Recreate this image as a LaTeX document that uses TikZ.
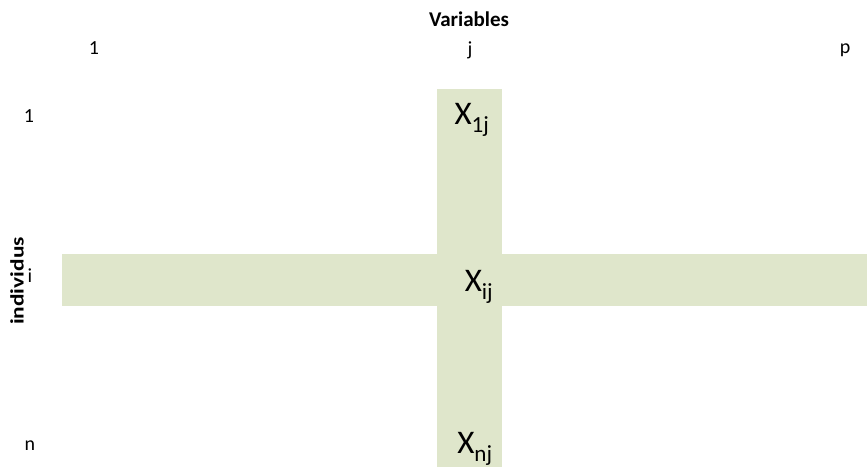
\documentclass[tikz,border=0pt]{standalone}
\usepackage{fontspec}
\usepackage{graphicx}
\setmainfont{Carlito}
\definecolor{band}{RGB}{223,230,203}
\begin{document}
\begin{tikzpicture}[x=1pt,y=-1pt,
  lbl/.style={inner sep=0pt,font=\fontsize{20}{20}\selectfont},
  big/.style={inner sep=0pt,font=\fontsize{33}{33}\selectfont},
  bandfill/.style={fill=band,draw=none}]
\useasboundingbox (0,0) rectangle (867,467);
\fill[bandfill] (437,89) rectangle (502,467);
\fill[bandfill] (62,254) rectangle (867,306);
\node[lbl,font=\fontsize{21}{21}\selectfont\bfseries] (vars) at (469,19) {Variables};
\node[lbl] (c1) at (94,48) {1};
\node[lbl] (cj) at (470,50) {j};
\node[lbl] (cp) at (845,50) {p};
\node[lbl] (r1) at (29,116) {1};
\node[lbl] (ri) at (30,276) {i};
\node[lbl] (rn) at (30,446) {n};
\node[lbl,font=\fontsize{19}{19}\selectfont\bfseries,rotate=90] (indiv) at (17,281) {\scalebox{1.23}[1]{individus}};
\node[big] (x1j) at (472,120) {X\textsubscript{1j}};
\node[big] (xij) at (479,287) {X\textsubscript{ij}};
\node[big] (xnj) at (475,449) {X\textsubscript{nj}};
\end{tikzpicture}
\end{document}
